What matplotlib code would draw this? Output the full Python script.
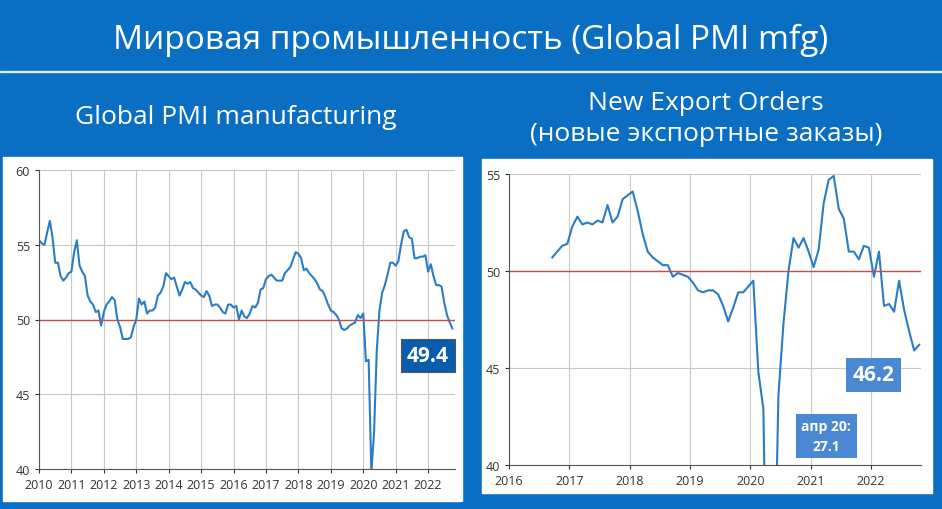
import matplotlib
matplotlib.use("Agg")
import matplotlib.pyplot as plt
from matplotlib.patches import Rectangle
import numpy as np

plt.rcParams['font.family'] = ['Open Sans', 'DejaVu Sans']

title = "Мировая промышленность (Global PMI mfg)"
left_title = "Global PMI manufacturing"
right_title = "New Export Orders\n(новые экспортные заказы)"

pmi = [55.3,55.1,55.0,55.8,56.6,55.5,53.8,53.8,52.9,52.6,52.8,53.1,
       53.2,54.5,55.3,53.6,53.2,52.9,51.6,51.2,51.0,50.5,50.6,49.6,
       50.5,51.0,51.2,51.5,51.3,50.0,49.5,48.7,48.7,48.7,48.8,49.5,
       50.0,51.4,51.0,51.2,50.4,50.6,50.6,50.8,51.6,51.8,52.2,53.1,
       52.9,52.7,52.8,52.2,51.6,52.0,52.5,52.4,52.5,52.1,52.0,51.8,
       51.6,51.5,51.9,51.6,50.9,51.0,51.0,50.8,50.5,50.4,51.0,51.0,
       50.8,50.9,50.0,50.6,50.2,50.1,50.4,50.9,50.8,51.1,52.0,52.1,
       52.7,52.9,53.0,52.8,52.6,52.6,52.6,53.1,53.3,53.5,54.0,54.5,
       54.4,54.1,53.3,53.4,53.1,52.9,52.7,52.4,52.0,51.9,51.5,51.0,
       50.6,50.5,50.3,50.0,49.4,49.3,49.4,49.6,49.7,49.8,50.3,50.1,
       50.4,47.2,47.3,39.8,42.4,47.9,50.6,51.8,52.3,53.0,53.8,53.8,
       53.6,53.9,55.0,55.9,56.0,55.5,55.4,54.1,54.1,54.2,54.2,54.3,
       53.2,53.7,52.9,52.3,52.3,52.2,51.1,50.3,49.8,49.4]
pmi_start = 2010.0

exp = [50.7,51.0,51.3,51.4,
       52.3,52.8,52.4,52.5,52.4,52.6,52.5,53.4,52.5,52.8,53.7,53.9,
       54.1,53.1,51.9,51.0,50.7,50.5,50.3,50.3,49.7,49.9,49.8,49.7,
       49.4,49.0,48.9,49.0,49.0,48.8,48.2,47.4,48.1,48.9,48.9,49.2,
       49.5,44.8,42.9,27.1,31.0,43.6,47.3,50.0,51.7,51.2,51.7,51.0,
       50.2,51.1,53.5,54.7,54.9,53.2,52.7,51.0,51.0,50.6,51.3,51.2,
       49.7,51.0,48.2,48.3,47.9,49.5,48.0,46.9,45.9,46.2]
exp_start = 2016.0 + 8/12 + 0.05

W, H = 942, 510
fig = plt.figure(figsize=(W/100, H/100), dpi=100)
fig.patch.set_facecolor('#0a6fc2')

def fr(x0, y0, x1, y1):
    return [x0/W, 1-y1/H, (x1-x0)/W, (y1-y0)/H]

fig.add_artist(Rectangle((0, 1-73/H), 1, 1.5/H, transform=fig.transFigure, color='white', alpha=0.8, zorder=-10))
fig.add_artist(Rectangle((3/W, 1-502/H), 459/W, 344/H, transform=fig.transFigure, color='white', zorder=-10))
fig.add_artist(Rectangle((482/W, 1-494/H), 450/W, 334/H, transform=fig.transFigure, color='white', zorder=-10))

fig.text(0.5, 1-40/H, title, color='white', fontsize=24, ha='center', va='center')
fig.text(236/W, 1-118/H, left_title, color='white', fontsize=19, ha='center', va='center')
fig.text(706/W, 1-119/H, right_title, color='white', fontsize=19, ha='center', va='center', linespacing=1.3)

line_c = '#2a7dc4'

def style(ax, xs, ylim, yticks):
    ax.set_facecolor('white')
    ax.set_ylim(*ylim)
    ax.set_yticks(yticks)
    ax.set_xticks(xs)
    ax.set_xticklabels([str(x) for x in xs])
    ax.grid(True, color='#c8c8c8', lw=0.8)
    ax.set_axisbelow(True)
    for s in ['top', 'right']:
        ax.spines[s].set_visible(False)
    for s in ['left', 'bottom']:
        ax.spines[s].set_color('#555555')
    ax.tick_params(labelsize=9, colors='#333333', length=3)
    ax.axhline(50, color='#c0504d', lw=1)

ax1 = fig.add_axes(fr(39, 171, 455, 470))
x1 = pmi_start + np.arange(len(pmi))/12
ax1.plot(x1, pmi, color=line_c, lw=1.5)
style(ax1, list(range(2010, 2023)), (40, 60), [40, 45, 50, 55, 60])
ax1.set_xlim(2010, 2022.83)
ax1.text(0.935, 0.38, "49.4", transform=ax1.transAxes, ha='center', va='center',
         color='white', fontsize=15, fontweight='bold',
         bbox=dict(boxstyle='square,pad=0.3', fc='#0a5cad', ec='#555555', lw=0.8))

ax2 = fig.add_axes(fr(509, 175, 921, 466))
x2 = exp_start + np.arange(len(exp))/12
ax2.plot(x2, exp, color=line_c, lw=1.5)
style(ax2, list(range(2016, 2023)), (40, 55), [40, 45, 50, 55])
ax2.set_xlim(2016, 2022.83)
ax2.text(0.885, 0.31, "46.2", transform=ax2.transAxes, ha='center', va='center',
         color='white', fontsize=15, fontweight='bold',
         bbox=dict(boxstyle='square,pad=0.3', fc='#4a88d4', ec='none'))
ax2.text(0.77, 0.1, "апр 20:\n27.1", transform=ax2.transAxes, ha='center', va='center',
         color='white', fontsize=10, fontweight='bold', linespacing=1.5,
         bbox=dict(boxstyle='square,pad=0.4', fc='#4a88d4', ec='none'))

fig.savefig('out.png', dpi=100, facecolor=fig.get_facecolor())
